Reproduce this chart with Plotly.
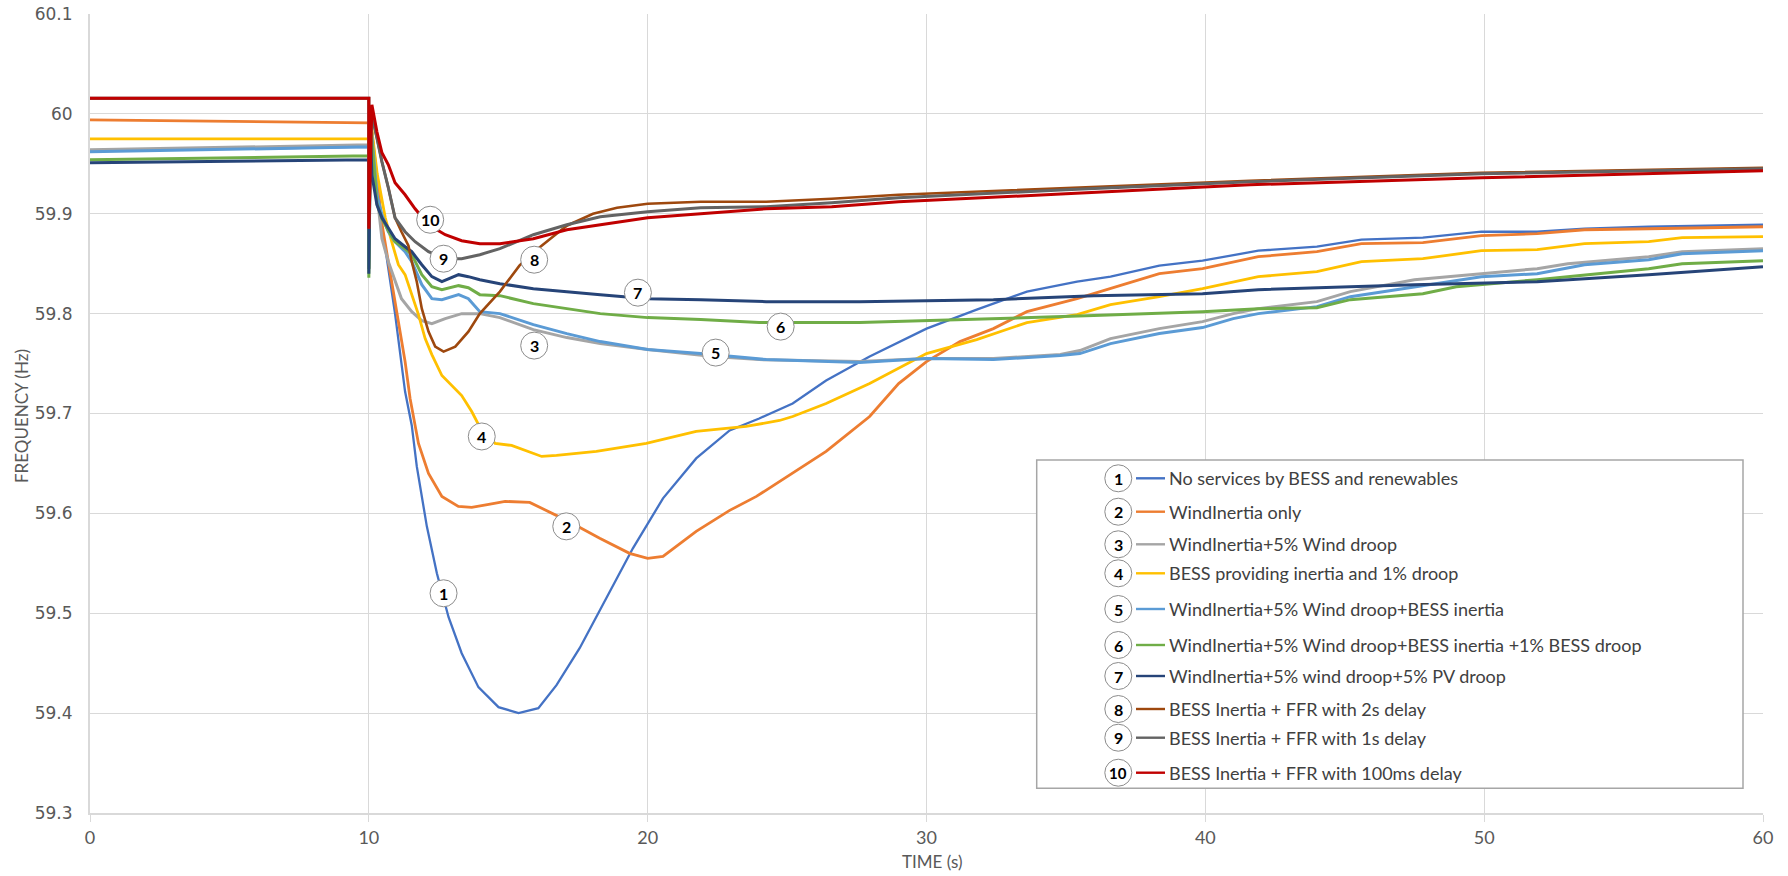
import plotly.graph_objects as go

# ---------------- data ----------------
SERIES_NAMES = [
    "No services by BESS and renewables",
    "WindInertia only",
    "WindInertia+5% Wind droop",
    "BESS providing inertia and 1% droop",
    "WindInertia+5% Wind droop+BESS inertia",
    "WindInertia+5% Wind droop+BESS inertia +1% BESS droop",
    "WindInertia+5% wind droop+5% PV droop",
    "BESS Inertia + FFR with 2s delay",
    "BESS Inertia + FFR with 1s delay",
    "BESS Inertia + FFR with 100ms delay",
]
SERIES_COLORS = ["#4472C4", "#ED7D31", "#A5A5A5", "#FFC000", "#5B9BD5",
                 "#70AD47", "#264478", "#9E480E", "#636363", "#C00000"]
SERIES_WIDTHS = [2.3, 2.8, 3.0, 2.8, 3.0, 3.0, 3.0, 2.6, 3.0, 3.0]

T1 = [0, 10, 10, 10.06, 10.47, 10.7, 10.94, 11.3, 11.54, 11.72, 12.08, 12.44, 12.86, 13.33, 13.93, 14.65, 15.37,
      16.08, 16.73, 17.56, 18.52, 19.47, 20.55, 21.74, 22.94, 24.0, 25.2, 26.4, 27.96, 30.0, 31.8, 33.6, 35.4,
      36.6, 38.35, 39.9, 41.9, 44.0, 45.6, 47.8, 49.9, 51.9, 53.6, 55.9, 60]
V1 = [59.963, 59.967, 59.845, 59.995, 59.888, 59.846, 59.8, 59.722, 59.688, 59.647, 59.587, 59.54, 59.496, 59.46,
      59.426, 59.406, 59.4, 59.405, 59.428, 59.465, 59.515, 59.565, 59.615, 59.655, 59.683, 59.695, 59.71, 59.733,
      59.757, 59.785, 59.804, 59.822, 59.832, 59.837, 59.848, 59.853, 59.863, 59.867, 59.874, 59.876, 59.882,
      59.882, 59.885, 59.887, 59.889]

T2 = [0, 10, 10, 10.06, 10.47, 10.7, 10.94, 11.3, 11.48, 11.66, 11.78, 12.14, 12.62, 13.21, 13.69, 14.3, 14.89,
      15.77, 16.2, 17.09, 18.28, 19.35, 20.0, 20.55, 21.74, 22.94, 23.9, 25.2, 26.4, 27.96, 29.0, 30.0, 31.2,
      32.4, 33.6, 35.4, 36.6, 38.35, 39.9, 41.9, 44.0, 45.6, 47.8, 49.9, 51.9, 53.6, 55.9, 60]
V2 = [59.994, 59.991, 59.845, 59.995, 59.89, 59.852, 59.812, 59.752, 59.715, 59.688, 59.67, 59.64, 59.617, 59.607,
      59.606, 59.609, 59.612, 59.611, 59.605, 59.593, 59.575, 59.56, 59.555, 59.557, 59.582, 59.603, 59.617,
      59.64, 59.662, 59.697, 59.73, 59.752, 59.772, 59.785, 59.802, 59.815, 59.825, 59.84, 59.845, 59.857,
      59.862, 59.87, 59.871, 59.878, 59.88, 59.884, 59.885, 59.887]

T3 = [0, 10, 10, 10.06, 10.29, 10.47, 10.7, 10.94, 11.17, 11.54, 11.9, 12.26, 12.74, 13.33, 13.98, 14.7, 15.9,
      17.1, 18.3, 20.0, 22.35, 24.0, 27.6, 30.0, 32.4, 34.8, 35.5, 36.6, 38.35, 39.9, 41.0, 41.9, 44.0, 45.2,
      47.5, 49.9, 51.9, 53.0, 55.9, 57.1, 60]
V3 = [59.964, 59.969, 59.845, 59.995, 59.92, 59.875, 59.852, 59.832, 59.815, 59.802, 59.793, 59.79, 59.795, 59.8,
      59.8, 59.796, 59.784, 59.776, 59.77, 59.764, 59.757, 59.754, 59.752, 59.755, 59.755, 59.759, 59.763, 59.775,
      59.785, 59.792, 59.8, 59.805, 59.812, 59.822, 59.834, 59.84, 59.845, 59.85, 59.857, 59.862, 59.865]

T4 = [0, 10, 10, 10.06, 10.3, 10.59, 10.82, 11.06, 11.3, 11.54, 11.78, 12.02, 12.26, 12.62, 12.98, 13.33, 13.69,
      13.93, 14.53, 15.12, 16.2, 16.73, 18.16, 19.95, 21.74, 23.53, 24.73, 25.2, 26.4, 27.96, 30.0, 31.8, 33.6,
      35.4, 36.6, 38.35, 39.9, 41.9, 44.0, 45.6, 47.8, 49.9, 51.9, 53.6, 55.9, 57.1, 60]
V4 = [59.975, 59.975, 59.845, 59.995, 59.94, 59.896, 59.872, 59.849, 59.839, 59.819, 59.799, 59.775, 59.759,
      59.738, 59.728, 59.718, 59.702, 59.689, 59.67, 59.668, 59.657, 59.658, 59.662, 59.67, 59.682, 59.687,
      59.693, 59.697, 59.71, 59.73, 59.76, 59.774, 59.791, 59.799, 59.809, 59.817, 59.825, 59.837, 59.842,
      59.852, 59.855, 59.863, 59.864, 59.87, 59.872, 59.876, 59.877]

T5 = [0, 10, 10, 10.06, 10.29, 10.47, 10.7, 10.94, 11.3, 11.54, 11.9, 12.26, 12.62, 13.22, 13.57, 13.98, 14.7,
      15.9, 17.1, 18.3, 20.0, 21.9, 24.25, 27.6, 30.0, 32.4, 34.8, 35.5, 36.6, 38.35, 39.9, 41.0, 41.9, 44.0,
      45.2, 47.5, 49.9, 51.9, 53.6, 55.9, 57.1, 60]
V5 = [59.962, 59.967, 59.845, 59.995, 59.919, 59.899, 59.882, 59.872, 59.862, 59.852, 59.829, 59.815, 59.814,
      59.819, 59.815, 59.802, 59.8, 59.789, 59.78, 59.772, 59.764, 59.76, 59.754, 59.751, 59.755, 59.754, 59.758,
      59.76, 59.77, 59.78, 59.786, 59.795, 59.8, 59.807, 59.817, 59.827, 59.837, 59.84, 59.849, 59.854, 59.86,
      59.863]

T6 = [0, 10, 10, 10.06, 10.29, 10.47, 10.7, 10.94, 11.3, 11.54, 11.9, 12.26, 12.62, 13.22, 13.57, 13.98, 14.7,
      15.9, 18.3, 20.0, 21.9, 24.0, 27.6, 30.0, 32.4, 36.0, 39.9, 41.9, 44.0, 45.2, 47.8, 49.0, 51.9, 55.9,
      57.1, 60]
V6 = [59.954, 59.958, 59.836, 59.99, 59.91, 59.895, 59.883, 59.872, 59.865, 59.859, 59.839, 59.827, 59.824,
      59.828, 59.826, 59.819, 59.818, 59.81, 59.8, 59.796, 59.794, 59.791, 59.791, 59.793, 59.795, 59.798,
      59.802, 59.805, 59.806, 59.814, 59.82, 59.827, 59.834, 59.845, 59.85, 59.853]

T7 = [0, 10, 10, 10.06, 10.11, 10.29, 10.47, 10.7, 10.94, 11.3, 11.54, 11.9, 12.26, 12.62, 13.22, 13.57, 13.98,
      14.7, 15.9, 18.3, 20.0, 21.9, 24.25, 27.6, 30.0, 32.4, 36.0, 39.9, 41.9, 44.0, 47.5, 51.9, 55.9, 60]
V7 = [59.951, 59.954, 59.84, 59.98, 59.939, 59.909, 59.896, 59.886, 59.875, 59.867, 59.862, 59.849, 59.837,
      59.832, 59.839, 59.837, 59.834, 59.83, 59.825, 59.819, 59.815, 59.814, 59.812, 59.812, 59.813, 59.814,
      59.818, 59.82, 59.824, 59.826, 59.829, 59.832, 59.839, 59.847]

T8 = [0, 10, 10, 10.06, 10.29, 10.47, 10.7, 10.94, 11.17, 11.42, 11.54, 11.72, 11.9, 12.14, 12.38, 12.68, 13.1,
      13.57, 13.98, 14.7, 15.4, 15.93, 16.6, 17.1, 18.04, 18.9, 20.0, 21.9, 24.25, 26.6, 29.0, 35.0, 41.6, 49.9, 60]
V8 = [60.0157, 60.0157, 59.885, 60.005, 59.976, 59.952, 59.926, 59.896, 59.882, 59.868, 59.852, 59.832, 59.805,
      59.782, 59.767, 59.762, 59.767, 59.782, 59.8, 59.822, 59.848, 59.862, 59.877, 59.888, 59.9, 59.906, 59.91,
      59.912, 59.912, 59.915, 59.919, 59.926, 59.933, 59.941, 59.946]

T9 = [0, 10, 10, 10.06, 10.29, 10.47, 10.7, 10.94, 11.3, 11.66, 12.14, 12.74, 13.33, 13.98, 14.7, 15.9, 17.1,
      18.3, 20.0, 21.9, 24.25, 26.6, 29.0, 35.0, 41.6, 49.9, 60]
V9 = [60.0157, 60.0157, 59.885, 60.005, 59.976, 59.952, 59.926, 59.896, 59.882, 59.872, 59.862, 59.855, 59.855,
      59.859, 59.865, 59.879, 59.889, 59.897, 59.902, 59.906, 59.907, 59.911, 59.916, 59.924, 59.932, 59.94, 59.945]

T10 = [0, 10, 10, 10.11, 10.29, 10.47, 10.7, 10.94, 11.3, 11.66, 12.14, 12.74, 13.33, 13.98, 14.7, 15.9, 17.1,
       18.3, 20.0, 21.9, 24.25, 26.6, 29.0, 35.0, 41.6, 49.9, 60]
V10 = [60.0157, 60.0157, 59.885, 60.009, 59.982, 59.961, 59.949, 59.931, 59.919, 59.905, 59.889, 59.879, 59.873,
       59.87, 59.87, 59.875, 59.884, 59.889, 59.896, 59.9, 59.905, 59.907, 59.912, 59.92, 59.929, 59.936, 59.943]

SERIES_T = [T1, T2, T3, T4, T5, T6, T7, T8, T9, T10]
SERIES_V = [V1, V2, V3, V4, V5, V6, V7, V8, V9, V10]

# numbered call-out labels placed on the curves (series number, time, frequency)
LABEL_NUM = [10, 9, 8, 7, 6, 3, 5, 4, 2, 1]
LABEL_T = [12.2, 12.68, 15.93, 19.65, 24.77, 15.93, 22.44, 14.05, 17.08, 12.68]
LABEL_V = [59.894, 59.855, 59.854, 59.821, 59.787, 59.768, 59.761, 59.677, 59.587, 59.520]

X_TICKS = [0, 10, 20, 30, 40, 50, 60]
Y_TICKS = [59.3, 59.4, 59.5, 59.6, 59.7, 59.8, 59.9, 60.0, 60.1]
Y_TICK_TEXT = ["59.3", "59.4", "59.5", "59.6", "59.7", "59.8", "59.9", "60", "60.1"]

# ---------------- layout geometry (pixels, page coordinates) ----------------
W, H = 1788, 876
PL, PR, PT, PB = 90, 1763, 14, 813   # plot area edges


def px_x(X):
    return (X - PL) / (PR - PL)


def px_y(Y):
    return (PB - Y) / (PB - PT)


GRID = "#d9d9d9"
TXT = "#595959"
CIRCLE_R = 13.5

fig = go.Figure()
for name, color, width, t, v in zip(SERIES_NAMES, SERIES_COLORS, SERIES_WIDTHS, SERIES_T, SERIES_V):
    fig.add_trace(go.Scatter(x=t, y=v, mode="lines", name=name,
                             line=dict(color=color, width=width), showlegend=False))

shapes = []
annotations = []

# numbered circles on the curves
for num, t, v in zip(LABEL_NUM, LABEL_T, LABEL_V):
    shapes.append(dict(type="circle", xref="x", yref="y", xsizemode="pixel", ysizemode="pixel",
                       xanchor=t, yanchor=v, x0=-CIRCLE_R, x1=CIRCLE_R, y0=-CIRCLE_R, y1=CIRCLE_R,
                       fillcolor="white", line=dict(color="#8c8c8c", width=1), layer="above"))
    annotations.append(dict(x=t, y=v, xref="x", yref="y", text="<b>%d</b>" % num, showarrow=False,
                            font=dict(family="Lato", size=16, color="#000000"),
                            xanchor="center", yanchor="middle"))

# custom legend box
LEG_BOX = (1036.7, 460, 1743, 788.3)
LEG_ROWS_Y = [478.3, 511.7, 544.3, 573.3, 609, 645, 676, 709, 737.7, 772.7]
LEG_CIRCLE_X = 1118.3
LEG_LINE_X = (1136, 1165)
LEG_TEXT_X = 1167

shapes.append(dict(type="rect", xref="paper", yref="paper",
                   x0=px_x(LEG_BOX[0]), x1=px_x(LEG_BOX[2]), y0=px_y(LEG_BOX[3]), y1=px_y(LEG_BOX[1]),
                   line=dict(color="#a6a6a6", width=1.5), fillcolor="white", layer="above"))
for i, (name, color, ry) in enumerate(zip(SERIES_NAMES, SERIES_COLORS, LEG_ROWS_Y)):
    shapes.append(dict(type="circle", xref="paper", yref="paper", xsizemode="pixel", ysizemode="pixel",
                       xanchor=px_x(LEG_CIRCLE_X), yanchor=px_y(ry),
                       x0=-CIRCLE_R, x1=CIRCLE_R, y0=-CIRCLE_R, y1=CIRCLE_R,
                       fillcolor="white", line=dict(color="#8c8c8c", width=1), layer="above"))
    annotations.append(dict(x=px_x(LEG_CIRCLE_X), y=px_y(ry), xref="paper", yref="paper",
                            text="<b>%d</b>" % (i + 1), showarrow=False,
                            font=dict(family="Lato", size=16 if i < 9 else 15, color="#000000"),
                            xanchor="center", yanchor="middle"))
    shapes.append(dict(type="line", xref="paper", yref="paper",
                       x0=px_x(LEG_LINE_X[0]), x1=px_x(LEG_LINE_X[1]), y0=px_y(ry), y1=px_y(ry),
                       line=dict(color=color, width=2.4), layer="above"))
    annotations.append(dict(x=px_x(LEG_TEXT_X), y=px_y(ry), xref="paper", yref="paper", text=name,
                            showarrow=False, font=dict(family="Lato", size=18, color="#404040"),
                            xanchor="left", yanchor="middle"))

# axis titles
annotations.append(dict(x=px_x(932), y=px_y(862), xref="paper", yref="paper", text="TIME (s)",
                        showarrow=False, font=dict(family="Lato", size=17, color=TXT),
                        xanchor="center", yanchor="middle"))
annotations.append(dict(x=px_x(21), y=px_y(416), xref="paper", yref="paper", text="FREQUENCY (Hz)",
                        showarrow=False, textangle=-90, font=dict(family="Lato", size=17, color=TXT),
                        xanchor="center", yanchor="middle"))

fig.update_layout(
    width=W, height=H,
    margin=dict(l=PL, r=W - PR, t=PT, b=H - PB, pad=0, autoexpand=False),
    paper_bgcolor="white", plot_bgcolor="white",
    showlegend=False, hovermode=False,
    shapes=shapes, annotations=annotations,
    xaxis=dict(range=[0, 60], tickvals=X_TICKS, showgrid=True, gridcolor=GRID, gridwidth=1,
               showline=True, linecolor=GRID, linewidth=2, zeroline=False, automargin=False,
               ticks="outside", ticklen=7, tickcolor=GRID, tickwidth=1, ticklabeloverflow="allow",
               tickfont=dict(family="Lato", size=18, color=TXT)),
    yaxis=dict(range=[59.3, 60.1], tickvals=Y_TICKS, ticktext=Y_TICK_TEXT, showgrid=True, gridcolor=GRID,
               gridwidth=1, showline=True, linecolor=GRID, linewidth=2, zeroline=False, automargin=False,
               ticks="", ticklabelstandoff=12, ticklabeloverflow="allow",
               tickfont=dict(family="DejaVu Sans", size=17, color=TXT)),
)

# remove the default page margin so the 1788x876 figure fills the window exactly
fig.write_html("out.html", config={"displayModeBar": False},
               post_script="document.body.style.margin='0';")
